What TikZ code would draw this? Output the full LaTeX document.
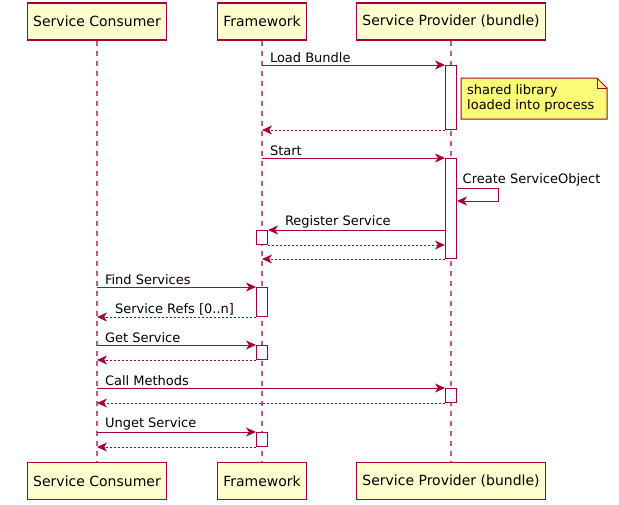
\documentclass[tikz,border=0pt]{standalone}
\usepackage{fontspec}
\setmainfont{DejaVu Sans}
\usetikzlibrary{arrows.meta,shapes.misc,calc}
\definecolor{umlred}{HTML}{A80036}
\definecolor{umlfill}{HTML}{FEFECE}
\definecolor{notefill}{HTML}{FBFB77}
\tikzset{
    part/.style={draw=umlred, fill=umlfill, line width=1.4pt, minimum height=37pt,
        inner xsep=6pt, font=\fontsize{14}{16}\selectfont},
    life/.style={draw=umlred!65, line width=1.1pt, dash pattern=on 5pt off 5pt},
    act/.style={draw=umlred, fill=white, line width=1pt, minimum width=11pt, inner sep=0pt, anchor=north},
    msg/.style={draw=umlred, line width=1pt, -{Stealth[length=10pt, width=9pt, inset=3pt]}},
    ret/.style={msg, dash pattern=on 2pt off 2pt},
    lbl/.style={font=\fontsize{13}{15}\selectfont, inner sep=1.5pt, anchor=south west, text=black},
}
\begin{document}
\begin{tikzpicture}[x=1pt, y=-1pt]
    \useasboundingbox (0,0) rectangle (619,504);
    % participants
    \node[part] (cn) at (97,21.5) {Service Consumer};
    \node[part] (fw) at (262,21.5) {Framework};
    \node[part] (sp) at (451,21.5) {Service Provider (bundle)};
    \node[part] (cnB) at (97,481) {Service Consumer};
    \node[part] (fwB) at (262,481) {Framework};
    \node[part] (spB) at (451,481) {Service Provider (bundle)};
    \draw[life] (cn) -- (cnB);
    \draw[life] (fw) -- (fwB);
    \draw[life] (sp) -- (spB);
    % activations
    \node[act, minimum height=64pt] (a1) at (451,65) {};
    \node[act, minimum height=100pt] (a2) at (451,158) {};
    \node[act, minimum height=14pt] (a3) at (262,230) {};
    \node[act, minimum height=29pt] (a4) at (262,287) {};
    \node[act, minimum height=14pt] (a5) at (262,345) {};
    \node[act, minimum height=14pt] (a6) at (451,388) {};
    \node[act, minimum height=14pt] (a7) at (262,432) {};
    % note
    \draw[draw=umlred, fill=notefill, line width=1pt]
        (461,78) -- (597,78) -- (607,88) -- (607,119) -- (461,119) -- cycle;
    \draw[draw=umlred, line width=1pt] (597,78) -- (597,88) -- (607,88);
    \node[font=\fontsize{13}{15}\selectfont, align=left, anchor=north west, inner sep=0pt]
        (note) at (467,84) {shared library\\loaded into process};
    % messages
    \draw[msg] (fw |- a1.north) -- (a1.north west) node[lbl, pos=0, xshift=6pt] {Load Bundle};
    \draw[ret] (a1.south west) -- (fw |- a1.south);
    \draw[msg] (fw |- a2.north) -- (a2.north west) node[lbl, pos=0, xshift=6pt] {Start};
    \draw[msg] ([yshift=-30pt]a2.north east) -- ++(41,0) |- ([yshift=-43pt]a2.north east);
    \node[lbl] (cso) at ([xshift=4pt, yshift=-30pt]a2.north east) {Create ServiceObject};
    \draw[msg] (a2.west |- a3.north) -- (a3.north east) node[lbl, pos=1, xshift=15pt] {Register Service};
    \draw[ret] (a3.south east) -- (a2.west |- a3.south);
    \draw[ret] (a2.south west) -- (fw |- a2.south);
    \draw[msg] (cn |- a4.north) -- (a4.north west) node[lbl, pos=0, xshift=6pt] {Find Services};
    \draw[ret] (a4.south west) -- (cn |- a4.south) node[lbl, pos=1, xshift=16pt] {Service Refs [0..n]};
    \draw[msg] (cn |- a5.north) -- (a5.north west) node[lbl, pos=0, xshift=6pt] {Get Service};
    \draw[ret] (a5.south west) -- (cn |- a5.south);
    \draw[msg] (cn |- a6.north) -- (a6.north west) node[lbl, pos=0, xshift=6pt] {Call Methods};
    \draw[ret] (a6.south west) -- (cn |- a6.south);
    \draw[msg] (cn |- a7.north) -- (a7.north west) node[lbl, pos=0, xshift=6pt] {Unget Service};
    \draw[ret] (a7.south west) -- (cn |- a7.south);
\end{tikzpicture}
\end{document}
